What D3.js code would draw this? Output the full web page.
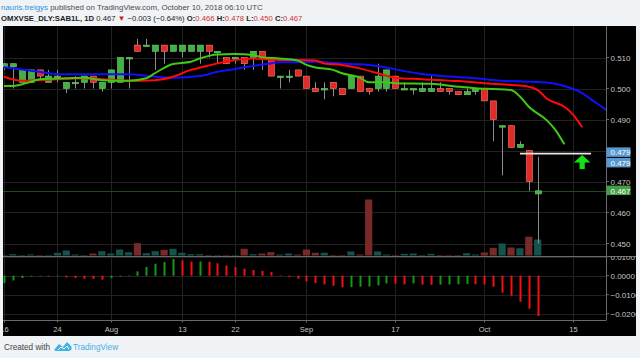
<!DOCTYPE html>
<html><head><meta charset="utf-8">
<script src="https://cdn.jsdelivr.net/npm/d3@7"></script>
<style>
html,body{margin:0;padding:0;background:#f0f3f6;overflow:hidden;}
svg{display:block;font-family:"Liberation Sans",Arial,sans-serif;}
</style></head><body>
<svg id="c" width="640" height="358"></svg>
<script>
// ---- data ----
const dates = ["2018-07-16","2018-07-17","2018-07-18","2018-07-19","2018-07-20","2018-07-23","2018-07-24","2018-07-25","2018-07-26","2018-07-27","2018-07-30","2018-07-31",
"2018-08-01","2018-08-02","2018-08-03","2018-08-06","2018-08-07","2018-08-08","2018-08-09","2018-08-10","2018-08-13","2018-08-14","2018-08-16","2018-08-17","2018-08-20","2018-08-21","2018-08-22","2018-08-23","2018-08-24","2018-08-27","2018-08-28","2018-08-29","2018-08-30","2018-08-31",
"2018-09-03","2018-09-04","2018-09-05","2018-09-06","2018-09-07","2018-09-10","2018-09-11","2018-09-12","2018-09-13","2018-09-14","2018-09-17","2018-09-18","2018-09-19","2018-09-20","2018-09-21","2018-09-24","2018-09-25","2018-09-26","2018-09-27","2018-09-28",
"2018-10-01","2018-10-02","2018-10-03","2018-10-04","2018-10-05","2018-10-08","2018-10-09"];
const openP  = [.507,.507,.502,.502,.506,.502,.504,.500,.502,.502,.504,.500,.502,.502,.510,.514,.514,.512,.514,.512,.512,.512,.512,.514,.512,.510,.510,.510,.510,.512,.510,.504,.504,.506,.504,.500,.500,.502,.500,.500,.504,.500,.500,.500,.504,.500,.500,.499,.499,.500,.500,.499,.498,.499,.500,.496,.488,.488,.481,.480,.466];
const highP  = [.508,.508,.506,.506,.506,.506,.506,.502,.504,.504,.504,.502,.506,.510,.510,.516,.516,.514,.514,.514,.514,.514,.514,.514,.512,.510,.510,.510,.512,.512,.510,.504,.506,.506,.504,.502,.502,.502,.500,.504,.504,.500,.508,.506,.504,.502,.500,.502,.504,.502,.500,.499,.500,.500,.500,.496,.488,.488,.483,.480,.478];
const lowP   = [.506,.500,.502,.502,.503,.502,.502,.4985,.500,.500,.500,.499,.500,.502,.500,.512,.514,.506,.508,.512,.510,.512,.508,.510,.508,.508,.508,.506,.506,.506,.504,.500,.502,.504,.500,.499,.4965,.4975,.498,.500,.499,.498,.499,.499,.500,.500,.498,.499,.499,.499,.498,.498,.498,.498,.496,.483,.472,.481,.481,.467,.450];
const closeP = [.508,.508,.506,.506,.504,.504,.504,.502,.502,.504,.502,.502,.506,.510,.510,.512,.514,.514,.512,.514,.514,.514,.514,.512,.512,.508,.510,.508,.512,.510,.504,.504,.504,.504,.500,.499,.500,.500,.498,.504,.499,.499,.504,.506,.500,.500,.500,.500,.500,.499,.499,.498,.499,.500,.496,.490,.488,.481,.482,.470,.467];
const volume = [10,33,5,25,5,5,68,125,25,5,50,108,50,150,83,308,58,108,143,168,68,33,33,12,8,12,12,168,33,50,83,25,50,25,150,68,68,8,8,100,25,1400,100,25,8,42,50,8,42,8,8,8,58,25,75,192,300,200,182,468,400];
const macdHist = [-0.0039,-0.0025,-0.0012,-0.0004,-0.0002,-0.0004,-0.0001,-0.0009,-0.0012,-0.0016,-0.0017,-0.0021,-0.0012,-0.0004,0.0001,0.0023,0.0046,0.0063,0.0072,0.0088,0.0081,0.0074,0.0075,0.0073,0.0065,0.0054,0.0046,0.0037,0.0030,0.0026,0.0019,0.0002,-0.0007,-0.0016,-0.0030,-0.0039,-0.0046,-0.0053,-0.0061,-0.0060,-0.0058,-0.0057,-0.0051,-0.0041,-0.0042,-0.0046,-0.0040,-0.0047,-0.0048,-0.0047,-0.0046,-0.0045,-0.0044,-0.0045,-0.0046,-0.0058,-0.0089,-0.0105,-0.0137,-0.0174,-0.0212];
// Alligator lines (bar index, value), shifted forward past the last bar
const jawIdx = [0,2,4,6,9,14,17,19,22,24,26,28,30,31,33,35,37,39,41,43,45,47,49,53,56,61,63,65,66,68];
const jawVal = [0.5069,0.5061,0.5054,0.5046,0.5046,0.5046,0.5038,0.5035,0.5040,0.5054,0.5063,0.5073,0.5081,0.5085,0.5085,0.5086,0.5083,0.5079,0.5076,0.5068,0.5056,0.5047,0.5041,0.5033,0.5025,0.5019,0.5008,0.4985,0.4965,0.4925];
const teethIdx = [0,2,4,6,9,11,14,17,19,21,22,24,26,28,29,31,33,35,36,38,40,42,44,47,51,55,59,60,61,63,64,65];
const teethVal = [0.5038,0.5025,0.5027,0.5030,0.5033,0.5030,0.5025,0.5027,0.5038,0.5060,0.5067,0.5081,0.5092,0.5097,0.5095,0.5092,0.5092,0.5090,0.5081,0.5076,0.5065,0.5049,0.5035,0.5030,0.5024,0.5015,0.5006,0.4995,0.4968,0.4941,0.4915,0.4875];
const lipsIdx = [0,1,3,4,7,9,11,14,16,17,19,21,22,24,26,28,29,31,33,34,35,37,38,40,41,43,44,48,51,53,55,57,58,59,61,62,63];
const lipsVal = [0.5008,0.5008,0.5022,0.5030,0.5033,0.5035,0.5027,0.5025,0.5033,0.5050,0.5079,0.5086,0.5097,0.5110,0.5111,0.5108,0.5101,0.5097,0.5090,0.5076,0.5068,0.5060,0.5049,0.5035,0.5020,0.5020,0.5017,0.5015,0.5006,0.5001,0.4998,0.4995,0.4974,0.4941,0.4898,0.4866,0.4820];
const priceTicks = [0.510,0.500,0.490,0.480,0.470,0.460,0.450];
const macdTicks = [0.0100,0.0000,-0.0100,-0.0200];
const timeTickIdx = [0,6,12,20,26,34,44,54,64];
const timeTickLabels = ["16","24","Aug","13","22","Sep","17","Oct","15"];
const levelLine = {fromIdx:58, toIdx:66, price:0.479};
const signalArrow = {idx:65, price:0.479};
const lastPrice = 0.467;
const axisMarks = [0.479, 0.479];

// ---- layout ----
const L = 3, R = 606, FR = 636, T = 26, PB = 256, MB = 320, AB = 336;
const svg = d3.select("#c");
const x = d3.scaleLinear().domain([0, 60]).range([4, 537.7]);
const y = d3.scaleLinear().domain([0.450, 0.510]).range([243.5, 57.5]);
const yM = d3.scaleLinear().domain([-0.02, 0.01]).range([313.7, 256.7]);
const yV = d3.scaleLinear().domain([0, 1500]).range([PB - 0.5, PB - 60.5]);

// header
const h1 = svg.append("text").attr("x", 1).attr("y", 9.5).attr("font-size", 7.9);
h1.append("tspan").attr("fill", "#2e8fd6").text("nauris.treigys");
h1.append("tspan").attr("fill", "#4a4a4a").text(" published on TradingView.com, October 10, 2018 06:10 UTC");
const h2 = svg.append("text").attr("x", 1).attr("y", 21).attr("font-size", 7.7).attr("fill", "#222");
h2.append("tspan").attr("font-weight", "bold").text("OMXVSE_DLY:SAB1L, 1D");
h2.append("tspan").text(" 0.467 ");
h2.append("tspan").attr("fill", "#c81e1e").text("\u25BC");
h2.append("tspan").text(" \u22120.003 (\u22120.64%) ");
[["O:", "0.466"], ["H:", "0.478"], ["L:", "0.450"], ["C:", "0.467"]].forEach((p, i) => {
  h2.append("tspan").attr("font-weight", "bold").text((i ? " " : "") + p[0]);
  h2.append("tspan").attr("fill", "#d32f2f").text(p[1]);
});

// chart background
svg.append("rect").attr("x", L).attr("y", T).attr("width", FR - L).attr("height", AB - T).attr("fill", "#000");

const defs = svg.append("defs");
defs.append("clipPath").attr("id", "cp").append("rect").attr("x", L).attr("y", T).attr("width", R - L).attr("height", PB - T);
defs.append("clipPath").attr("id", "cm").append("rect").attr("x", L).attr("y", PB).attr("width", R - L).attr("height", MB - PB);
defs.append("clipPath").attr("id", "cml").append("rect").attr("x", R).attr("y", PB + 0.5).attr("width", FR - R).attr("height", MB - PB);
defs.append("clipPath").attr("id", "ca").append("rect").attr("x", L).attr("y", MB).attr("width", R - L).attr("height", AB - MB);

// grid
const grid = svg.append("g").attr("stroke", "#222").attr("stroke-width", 1);
timeTickIdx.forEach(i => { const gx = Math.round(x(i)) + 0.5; if (gx < R) grid.append("line").attr("x1", gx).attr("x2", gx).attr("y1", T).attr("y2", MB); });
priceTicks.forEach(p => { const gy = Math.round(y(p)) + 0.5; grid.append("line").attr("x1", L).attr("x2", R).attr("y1", gy).attr("y2", gy); });
macdTicks.forEach(p => { const gy = Math.round(yM(p)) + 0.5; if (gy > PB + 1) grid.append("line").attr("x1", L).attr("x2", R).attr("y1", gy).attr("y2", gy); });

// price pane
const pp = svg.append("g").attr("clip-path", "url(#cp)");
// volume
pp.selectAll("rect.vol").data(volume).join("rect").attr("class", "vol")
  .attr("x", (d, i) => x(i) - 3.6).attr("width", 7.2)
  .attr("y", d => yV(d)).attr("height", d => Math.max(0.5, yV(0) - yV(d)))
  .attr("fill", (d, i) => closeP[i] >= openP[i] ? "#14534e" : "#782a28");
// last price line
pp.append("line").attr("x1", L).attr("x2", R).attr("y1", Math.round(y(lastPrice)) + 0.5).attr("y2", Math.round(y(lastPrice)) + 0.5)
  .attr("stroke", "#1d4d1d").attr("stroke-width", 1);
// wicks
pp.selectAll("line.wick").data(dates).join("line").attr("class", "wick")
  .attr("x1", (d, i) => Math.round(x(i)) + 0.5).attr("x2", (d, i) => Math.round(x(i)) + 0.5)
  .attr("y1", (d, i) => y(highP[i])).attr("y2", (d, i) => y(lowP[i]))
  .attr("stroke", "#8c8c8c").attr("stroke-width", 1);
// bodies
pp.selectAll("rect.body").data(dates).join("rect").attr("class", "body")
  .attr("x", (d, i) => Math.round(x(i)) - 2.5).attr("width", 6)
  .attr("y", (d, i) => y(Math.max(openP[i], closeP[i])))
  .attr("height", (d, i) => Math.max(1.5, Math.abs(y(openP[i]) - y(closeP[i]))))
  .attr("fill", (d, i) => closeP[i] >= openP[i] ? "#43b043" : "#e02b26")
  .attr("stroke", (d, i) => closeP[i] >= openP[i] ? "#6fd36f" : "#ff7a70").attr("stroke-width", 0.6);
// alligator
const mkLine = d3.line().x(d => x(d[0])).y(d => y(d[1])).curve(d3.curveMonotoneX);
[[jawIdx, jawVal, "#1010ff"], [teethIdx, teethVal, "#ff0a0a"], [lipsIdx, lipsVal, "#3fca14"]].forEach(([ix, v, c]) => {
  pp.append("path").attr("d", mkLine(ix.map((k, j) => [k, v[j]]))).attr("fill", "none").attr("stroke", c).attr("stroke-width", 2);
});
// level line
pp.append("line").attr("x1", x(levelLine.fromIdx)).attr("x2", x(levelLine.toIdx))
  .attr("y1", y(levelLine.price)).attr("y2", y(levelLine.price)).attr("stroke", "#e6e6e6").attr("stroke-width", 1.6);
// arrow
const ax = x(signalArrow.idx), ay = y(signalArrow.price) + 1.5;
pp.append("path").attr("d", `M${ax},${ay} L${ax + 8.3},${ay + 7.5} L${ax + 2.6},${ay + 7.5} L${ax + 2.6},${ay + 14} L${ax - 2.6},${ay + 14} L${ax - 2.6},${ay + 7.5} L${ax - 8.3},${ay + 7.5} Z`)
  .attr("fill", "#12e312");

// MACD pane
const mp = svg.append("g").attr("clip-path", "url(#cm)");
mp.selectAll("rect.h").data(macdHist).join("rect").attr("class", "h")
  .attr("x", (d, i) => Math.round(x(i)) - 0.5).attr("width", 2)
  .attr("y", d => Math.min(yM(d), yM(0))).attr("height", d => Math.max(0.5, Math.abs(yM(d) - yM(0))))
  .attr("fill", (d, i) => (i === 0 || d >= macdHist[i - 1]) ? "#129a12" : "#f21212");

// frame lines
const fr = svg.append("g").attr("stroke", "#6a6a6a").attr("stroke-width", 1);
fr.append("line").attr("x1", R + 0.5).attr("x2", R + 0.5).attr("y1", T).attr("y2", MB);
fr.append("line").attr("x1", L).attr("x2", FR).attr("y1", PB + 0.5).attr("y2", PB + 0.5);
fr.append("line").attr("x1", L).attr("x2", R + 0.5).attr("y1", MB + 0.5).attr("y2", MB + 0.5);

// price axis labels (the 0.480 label sits under the 0.479 boxes, so only its tick shows)
const pa = svg.append("g").attr("font-size", 8).attr("fill", "#c4c4c4");
priceTicks.forEach(p => {
  const ty = y(p);
  pa.append("line").attr("x1", R).attr("x2", R + 3).attr("y1", ty).attr("y2", ty).attr("stroke", "#6a6a6a");
  const covered = axisMarks.some(m => Math.abs(y(m) - ty) < 14);
  if (!covered) pa.append("text").attr("x", R + 4.5).attr("y", ty + 3).text(p.toFixed(3));
});
const ma = svg.append("g").attr("font-size", 8).attr("fill", "#c4c4c4").attr("clip-path", "url(#cml)");
macdTicks.forEach(p => {
  const ty = yM(p);
  ma.append("line").attr("x1", R).attr("x2", R + 3).attr("y1", ty).attr("y2", ty).attr("stroke", "#6a6a6a");
  ma.append("text").attr("x", R + 4.5).attr("y", ty + 3).text(d3.format(".4f")(p));
});
// axis value boxes
axisMarks.forEach((p, k) => {
  const cy = y(p) - 1.2 + k * 10.5;
  svg.append("rect").attr("x", R + 0.5).attr("y", cy - 5).attr("width", 24).attr("height", 9.5).attr("fill", "#5b98d2");
  svg.append("text").attr("x", R + 4.5).attr("y", cy + 3).attr("font-size", 8).attr("fill", "#fff").text(p.toFixed(3));
});
{
  const cy = y(lastPrice) - 0.2;
  svg.append("rect").attr("x", R + 0.5).attr("y", cy - 5).attr("width", 24).attr("height", 9.5).attr("fill", "#43a047");
  svg.append("text").attr("x", R + 4.5).attr("y", cy + 3).attr("font-size", 8).attr("fill", "#fff").text(lastPrice.toFixed(3));
}

// time axis
const ta = svg.append("g").attr("clip-path", "url(#ca)");
timeTickIdx.forEach((t, k) => {
  const tx = Math.round(x(t)) + 0.5;
  ta.append("line").attr("x1", tx).attr("x2", tx).attr("y1", MB).attr("y2", MB + 2.5).attr("stroke", "#6a6a6a");
  ta.append("text").attr("x", tx).attr("y", 332).attr("text-anchor", "middle").attr("font-size", 7.5).attr("fill", "#c4c4c4").text(timeTickLabels[k]);
});

// footer
svg.append("text").attr("x", 4).attr("y", 350).attr("font-size", 8.2).attr("fill", "#444").text("Created with");
const lg = svg.append("g").attr("transform", "translate(54,342)");
lg.append("path").attr("d", "M0,8 L5,2 L9,5 L13,0 L17,4 Q19,8 15,9 L2,9 Z").attr("fill", "#3fb1e5");
lg.append("path").attr("d", "M4,8 L7,5 L10,7 L13,4 L15,7").attr("fill", "none").attr("stroke", "#fff").attr("stroke-width", 1);
svg.append("text").attr("x", 73).attr("y", 350).attr("font-size", 8.2).attr("fill", "#46aee3").text("TradingView");
</script>
</body></html>
